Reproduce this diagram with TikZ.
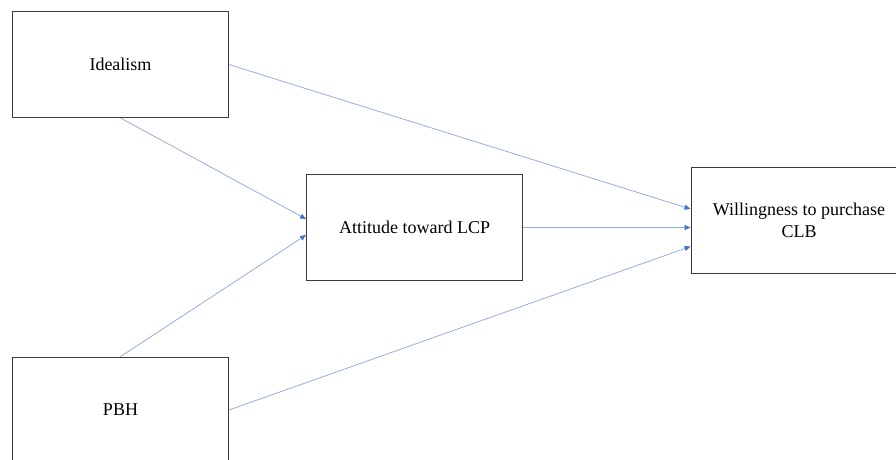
\documentclass[tikz,border=0pt]{standalone}
\usepackage{fontspec}
\setmainfont{Liberation Serif}
\usetikzlibrary{arrows.meta}
\definecolor{linkline}{HTML}{8FAADC}
\definecolor{linkhead}{HTML}{4472C4}
\definecolor{boxedge}{HTML}{3A3A3A}
\begin{document}
\begin{tikzpicture}[x=1pt,y=-1pt,
  conbox/.style={draw=boxedge,line width=0.9pt,fill=white,rectangle,
    minimum width=216pt,minimum height=106pt,inner sep=0pt,
    align=center,font=\fontsize{18}{21.7}\selectfont},
  link/.style={draw=linkline,line width=0.75pt,
    -{Triangle[length=6pt,width=5pt,fill=linkhead,color=linkhead]}}]
\useasboundingbox (0,0) rectangle (896,459);
\clip (0,0) rectangle (896,459);
\fill[white] (0,0) rectangle (896,459);

\node[conbox] (ideal) at (120.5,64.5) {Idealism};
\node[conbox] (att) at (414.5,227.5) {Attitude toward LCP};
\node[conbox] (will) at (799,220.5) {Willingness to purchase\\CLB};
\node[conbox] (pbh) at (120.5,410) {PBH};

\draw[link] (ideal.east) -- ([yshift=11.5pt]will.west);
\draw[link] (ideal.south) -- ([yshift=8.5pt]att.west);
\draw[link] (att.east) -- ([yshift=-7pt]will.west);
\draw[link] (pbh.north) -- ([yshift=-7.5pt]att.west);
\draw[link] (pbh.east) -- ([yshift=-26pt]will.west);
\end{tikzpicture}
\end{document}
